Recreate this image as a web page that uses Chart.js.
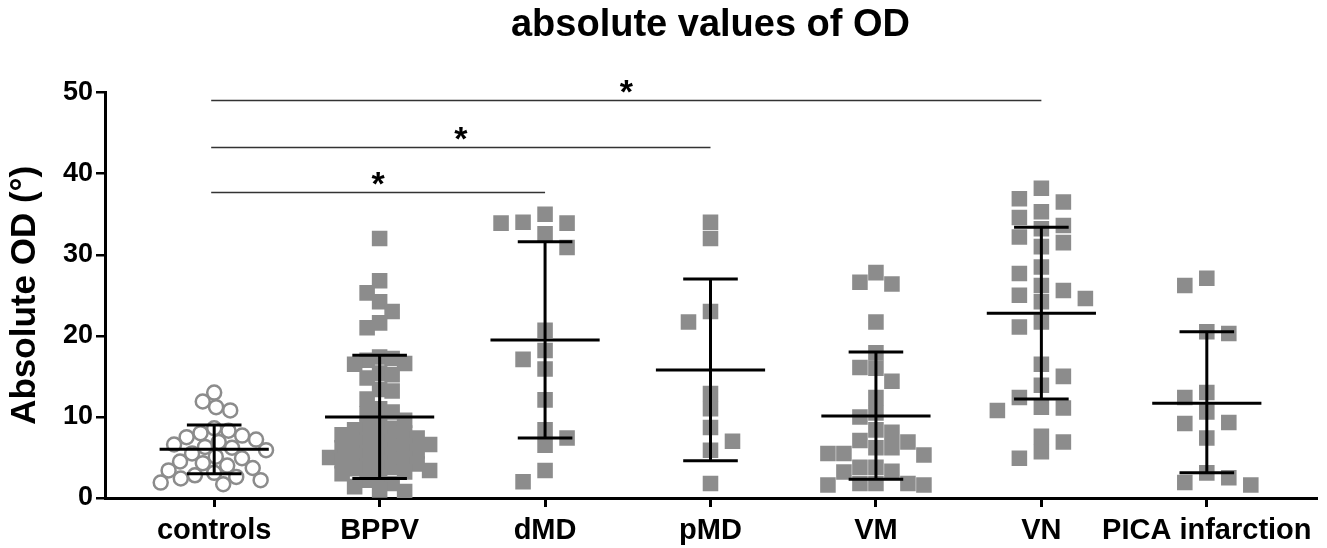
<!DOCTYPE html>
<html>
<head>
<meta charset="utf-8">
<script src="https://cdn.jsdelivr.net/npm/chart.js@4.4.0/dist/chart.umd.min.js"></script>
<style>
  body { margin: 0; background: #fff; }
</style>
</head>
<body>
<canvas id="myChart" width="1327" height="548"></canvas>
<script>
const groups = ['controls', 'BPPV', 'dMD', 'pMD', 'VM', 'VN', 'PICA infarction'];

// values (degrees)
const controls = [13.0, 11.9, 11.2, 10.8, 8.6, 8.3, 8.0, 7.7, 7.5, 7.2, 6.9, 6.6, 6.3, 6.2, 5.9, 5.5, 5.1, 4.9, 4.5, 4.3, 4.0, 3.7, 3.4, 3.1, 2.8, 2.6, 2.4, 2.2, 1.9, 1.7];
const bppv = [32.0, 26.8, 25.3, 24.2, 23.0, 21.6, 21.0, 17.4, 17.2, 17.0, 16.6, 16.5, 15.4, 15.2, 14.8, 13.4, 13.2, 12.2, 11.0, 10.6, 10.4, 9.6, 9.2, 8.8, 8.6, 8.4, 8.0, 7.8, 7.6, 7.4, 7.2, 7.0, 6.8, 6.6, 6.4, 6.2, 6.0, 5.8, 5.6, 5.4, 5.2, 5.0, 4.8, 4.6, 4.4, 4.2, 4.0, 3.8, 3.6, 3.4, 3.2, 3.0, 2.6, 2.2, 1.8, 1.4, 1.0, 0.8];
const dmd = [35.0, 34.0, 33.9, 33.9, 32.6, 30.9, 20.7, 18.2, 17.1, 15.9, 12.1, 8.4, 7.4, 6.5, 3.4, 2.0];
const pmd = [34.0, 32.0, 23.0, 21.7, 12.9, 11.0, 8.7, 7.0, 5.9, 1.8];
const vm = [27.8, 26.6, 26.4, 21.7, 17.9, 16.1, 16.0, 14.4, 12.4, 10.5, 10.0, 8.4, 8.1, 7.1, 6.9, 6.2, 6.2, 5.5, 5.5, 5.3, 3.8, 3.8, 3.3, 3.2, 1.8, 1.8, 1.8, 1.6, 1.6];
const vn = [38.2, 36.9, 36.5, 35.3, 34.6, 33.6, 33.2, 32.2, 31.5, 31.0, 28.5, 27.7, 26.2, 25.6, 25.0, 24.6, 24.2, 21.7, 21.1, 16.5, 15.0, 13.9, 12.4, 11.2, 11.1, 10.8, 7.6, 6.9, 5.7, 4.9];
const pica = [27.1, 26.2, 20.5, 20.3, 13.0, 12.4, 10.6, 9.3, 9.2, 7.4, 3.1, 2.5, 1.9, 1.6];

// mean and +/- SD bars
const means = [6.0, 10.0, 19.5, 15.8, 10.1, 22.8, 11.7];
const sdLow = [3.0, 2.4, 7.4, 4.6, 2.3, 12.2, 3.1];
const sdHigh = [9.0, 17.6, 31.6, 27.0, 18.0, 33.4, 20.5];

// significance brackets
const sigFrom = [0, 0, 0];
const sigTo = [2, 3, 5];
const sigY = [37.8, 43.3, 49.1];
const sigText = ['*', '*', '*'];

const values = [controls, bppv, dmd, pmd, vm, vn, pica];
const FONT = "'Liberation Sans', Arial, Helvetica, sans-serif";
const grey = '#8c8c8c';
// horizontal step (px) between neighbouring markers in each column
const swarmStep = [14.5, 12.5, 22, 22, 16, 22, 22];

const datasets = values.map((vals, i) => ({
  label: groups[i],
  data: vals.map(v => ({ x: i, y: v })),
  pointStyle: i === 0 ? 'circle' : 'rect',
  pointRadius: i === 0 ? 7 : 11,
  pointHoverRadius: i === 0 ? 7 : 11,
  backgroundColor: i === 0 ? 'rgba(255,255,255,0)' : grey,
  borderColor: grey,
  borderWidth: i === 0 ? 2.5 : 0
}));

const extras = {
  id: 'extras',
  afterDatasetsDraw(chart) {
    const { ctx } = chart;
    const x = chart.scales.x, y = chart.scales.y;
    const unit = x.getPixelForValue(1) - x.getPixelForValue(0);
    ctx.save();
    ctx.strokeStyle = '#000';
    ctx.lineWidth = 3;
    ctx.lineCap = 'butt';
    means.forEach((m, i) => {
      const cx = x.getPixelForValue(i);
      const hw = unit * 0.33, cw = unit * 0.165;
      const ym = y.getPixelForValue(m), yl = y.getPixelForValue(sdLow[i]), yh = y.getPixelForValue(sdHigh[i]);
      ctx.beginPath();
      ctx.moveTo(cx - hw, ym); ctx.lineTo(cx + hw, ym);
      ctx.moveTo(cx, yl); ctx.lineTo(cx, yh);
      ctx.moveTo(cx - cw, yl); ctx.lineTo(cx + cw, yl);
      ctx.moveTo(cx - cw, yh); ctx.lineTo(cx + cw, yh);
      ctx.stroke();
    });
    ctx.strokeStyle = '#333';
    ctx.lineWidth = 1.5;
    ctx.fillStyle = '#000';
    ctx.font = 'bold 34px ' + FONT;
    ctx.textAlign = 'center';
    ctx.textBaseline = 'alphabetic';
    sigFrom.forEach((f, k) => {
      const x0 = x.getPixelForValue(f) - 3, x1 = x.getPixelForValue(sigTo[k]);
      const yy = Math.round(y.getPixelForValue(sigY[k])) + 0.5;
      ctx.beginPath();
      ctx.moveTo(x0, yy); ctx.lineTo(x1, yy);
      ctx.stroke();
      ctx.fillText(sigText[k], (x0 + x1) / 2, yy + 2);
    });
    ctx.restore();
  }
};

const ctx = document.getElementById('myChart');
const chart = new Chart(ctx, {
  type: 'scatter',
  data: { datasets: datasets },
  options: {
    responsive: false,
    animation: false,
    devicePixelRatio: 1,
    layout: { padding: { left: 0, right: 9, top: 0, bottom: 0 } },
    plugins: {
      legend: { display: false },
      tooltip: { enabled: false },
      title: {
        display: true,
        fullSize: false,
        text: 'absolute values of OD',
        color: '#000',
        font: { family: FONT, size: 38, weight: 'bold' },
        padding: { top: 3, bottom: 44 }
      }
    },
    scales: {
      x: {
        type: 'linear',
        min: -0.66,
        max: 6.66,
        afterBuildTicks: s => { s.ticks = groups.map((g, i) => ({ value: i })); },
        afterFit: s => { s.height = 50; },
        ticks: {
          callback: v => groups[v],
          autoSkip: false,
          maxRotation: 0,
          color: '#000',
          padding: 7,
          font: { family: FONT, size: 29, weight: 'bold' }
        },
        grid: { drawOnChartArea: false, color: '#000', lineWidth: 3, tickLength: 9 },
        border: { color: '#000', width: 3 }
      },
      y: {
        min: 0,
        max: 50,
        afterFit: s => { s.width = 105; },
        ticks: {
          stepSize: 10,
          color: '#000',
          padding: 3,
          font: { family: FONT, size: 27, weight: 'bold' }
        },
        grid: { drawOnChartArea: false, color: '#000', lineWidth: 2.5, tickLength: 9 },
        border: { color: '#000', width: 3 },
        title: {
          display: true,
          text: 'Absolute OD (°)',
          color: '#000',
          padding: { top: 4, bottom: 0 },
          font: { family: FONT, size: 35, weight: 'bold' }
        }
      }
    }
  },
  plugins: [extras]
});

// spread the points sideways (column scatter layout)
function swarm(chart) {
  const xs = chart.scales.x, ys = chart.scales.y;
  const unit = xs.getPixelForValue(1) - xs.getPixelForValue(0);
  chart.data.datasets.forEach((ds, i) => {
    const round = i === 0;
    const vals = values[i];
    const gapX = swarmStep[i];
    const gapY = round ? 14.5 : Math.min(15, gapX);
    const placed = [];
    const order = vals.map((v, k) => k).sort((a, b) => vals[b] - vals[a]);
    let flip = 1;
    order.forEach(k => {
      const py = ys.getPixelForValue(vals[k]);
      const near = placed.filter(p => Math.abs(p.py - py) < gapY);
      const cand = [0];
      near.forEach(p => {
        const gap = round ? Math.sqrt(gapX * gapX - (p.py - py) ** 2) : gapX;
        cand.push(p.dx + gap, p.dx - gap);
      });
      const ok = cand.filter(c => near.every(p => round
        ? Math.hypot(c - p.dx, py - p.py) >= gapX - 0.01
        : Math.abs(c - p.dx) >= gapX - 0.01));
      ok.sort((a, b) => (Math.abs(a) + 0.001 * flip * Math.sign(a)) - (Math.abs(b) + 0.001 * flip * Math.sign(b)));
      const dx = ok[0];
      if (dx !== 0) flip = -flip;
      placed.push({ py, dx });
      ds.data[k] = { x: i + dx / unit, y: vals[k] };
    });
  });
  chart.update('none');
}
swarm(chart);
</script>
</body>
</html>
